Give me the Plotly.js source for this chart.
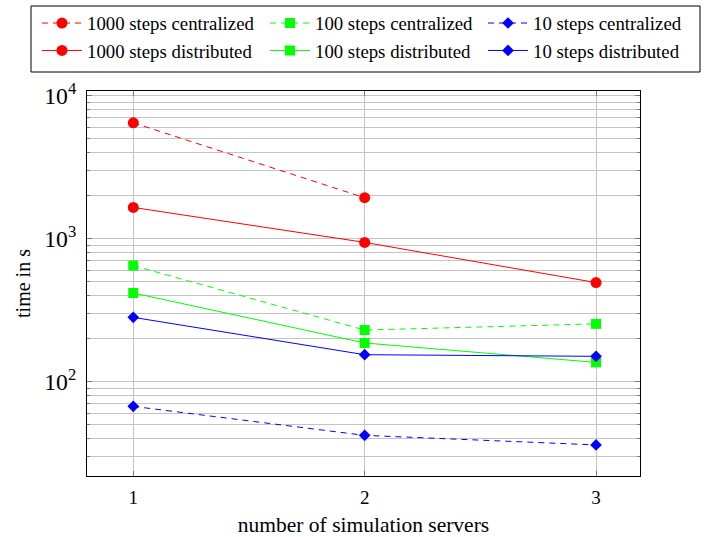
<!DOCTYPE html>
<html><head><meta charset="utf-8">
<script src="https://cdn.plot.ly/plotly-3.0.1.min.js"></script>
<style>html,body{margin:0;padding:0;background:#fff}</style>
</head><body>
<div id="chart" style="width:717px;height:537px"></div>
<script>
const servers = [1, 2, 3];
const c1000 = [6450, 1930];
const c100 = [647, 229, 253];
const c10 = [67, 42, 36];
const d1000 = [1650, 940, 492];
const d100 = [416, 186, 136];
const d10 = [281, 154, 150];
const names = ["1000 steps centralized", "100 steps centralized", "10 steps centralized",
               "1000 steps distributed", "100 steps distributed", "10 steps distributed"];

function tr(y, name, color, symbol, size, dash, leg) {
  return {x: servers.slice(0, y.length), y: y, name: name, type: 'scatter', mode: 'lines+markers',
    legend: leg,
    line: {color: color, width: 1, dash: dash},
    marker: {color: color, symbol: symbol, size: size}};
}
const data = [
  tr(c1000, names[0], '#ff0000', 'circle', 11, '6px,5px', 'legend'),
  tr(c100, names[1], '#00ff00', 'square', 10, '6px,5px', 'legend2'),
  tr(c10, names[2], '#0000ff', 'diamond', 9, '6px,5px', 'legend3'),
  tr(d1000, names[3], '#ff0000', 'circle', 11, 'solid', 'legend'),
  tr(d100, names[4], '#00ff00', 'square', 10, 'solid', 'legend2'),
  tr(d10, names[5], '#0000ff', 'diamond', 9, 'solid', 'legend3')
];
const fam = 'Liberation Serif, Times New Roman, serif';
function leg(xpx) {
  return {orientation: 'v', x: (xpx - 87) / 553, xanchor: 'left', xref: 'paper', y: 0.992, yanchor: 'top',
    yref: 'container', borderwidth: 0, bgcolor: 'rgba(0,0,0,0)', tracegroupgap: 0, traceorder: 'normal',
    font: {family: fam, size: 18.8, color: '#000'}, itemwidth: 40};
}
const layout = {
  width: 717, height: 537,
  margin: {l: 87, r: 77, t: 91, b: 61, autoexpand: false},
  paper_bgcolor: '#fff', plot_bgcolor: '#fff',
  font: {family: fam, color: '#000', size: 18},
  showlegend: true,
  legend: leg(37), legend2: leg(265), legend3: leg(483),
  shapes: [{type: 'rect', xref: 'paper', yref: 'paper',
    x0: (31 - 87) / 553, x1: (700 - 87) / 553, y0: (476 - 72) / 385, y1: (476 - 6) / 385,
    line: {color: '#000', width: 1}, fillcolor: 'rgba(0,0,0,0)'}],
  xaxis: {range: [0.8, 3.19], tickvals: servers, ticktext: ['1', '2', '3'],
    showgrid: true, gridcolor: '#c4c4c4', gridwidth: 1, zeroline: false,
    showline: true, linecolor: '#000', linewidth: 1, mirror: 'ticks',
    ticks: 'inside', ticklen: 5, tickcolor: '#777', ticklabelstandoff: 4,
    tickfont: {size: 19},
    title: {text: 'number of simulation servers', font: {size: 21.5}, standoff: 10}},
  yaxis: {type: 'log', range: [1.339, 4.032], dtick: 1, exponentformat: 'power',
    showgrid: true, gridcolor: '#c4c4c4', gridwidth: 1, zeroline: false,
    showline: true, linecolor: '#000', linewidth: 1, mirror: 'ticks',
    ticks: 'inside', ticklen: 5, tickcolor: '#777', ticklabelstandoff: 6,
    tickfont: {size: 19},
    minor: {dtick: 'D1', showgrid: true, gridcolor: '#c4c4c4', gridwidth: 1, ticks: 'inside', ticklen: 3, tickcolor: '#777'},
    title: {text: 'time in s', font: {size: 20}, standoff: 8}}
};
Plotly.newPlot('chart', data, layout, {displayModeBar: false, staticPlot: true});
</script>
</body></html>
